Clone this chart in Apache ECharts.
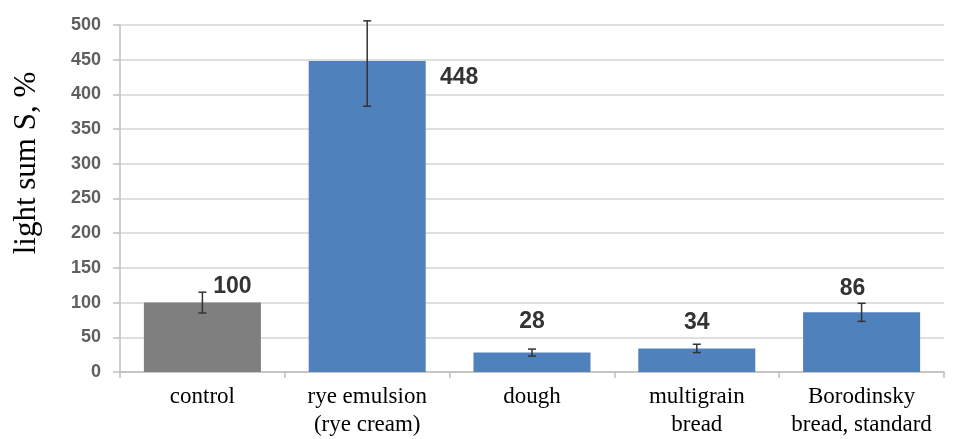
<!DOCTYPE html>
<html>
<head>
<meta charset="utf-8">
<script src="https://cdn.jsdelivr.net/npm/echarts@6/dist/echarts.min.js"></script>
<style>
html, body { margin: 0; padding: 0; background: #fff; }
#chart { width: 956px; height: 439px; }
</style>
</head>
<body>
<div id="chart"></div>
<script>
// data
var categories = ['control', 'rye emulsion\n(rye cream)', 'dough', 'multigrain\nbread', 'Borodinsky\nbread, standard'];
var values = [100, 448, 28, 34, 86];
var errLow = [85, 383, 23, 28, 73];   // lower whisker end
var errHigh = [115, 506, 33, 40, 99]; // upper whisker end
var barColors = ['#7f7f7f', '#4f81bd', '#4f81bd', '#4f81bd', '#4f81bd'];
var yTicks = [0, 500, 50]; // min, max, interval
var yTitle = 'light sum S, %';

// label placement per bar (offset from the top of the bar)
var labelOffsets = [[30, 1], [92, 33], [0, -14], [0, -9], [-9, -7]];

var myChart = echarts.init(document.getElementById('chart'));

var barData = values.map(function(v, i) {
	return {
		value: v,
		itemStyle: { color: barColors[i] },
		label: { offset: labelOffsets[i] }
	};
});

var errData = values.map(function(v, i) {
	return [i, errLow[i], errHigh[i]];
});

var option = {
	animation: false,
	grid: {
		left: 120,
		right: 12,
		top: 25,
		bottom: 67
	},
	graphic: [{ // y axis title
		type: 'text',
		x: 27,
		y: 163,
		rotation: Math.PI / 2,
		style: {
			text: yTitle,
			fill: '#000',
			font: '31px "Liberation Serif"',
			align: 'center',
			verticalAlign: 'middle'
		}
	}],
	xAxis: {
		type: 'category',
		data: categories,
		axisLine: { lineStyle: { color: '#bfbfbf', width: 1.5 } },
		axisTick: {
			show: true,
			length: 6,
			lineStyle: { color: '#bfbfbf', width: 1.5 }
		},
		axisLabel: {
			color: '#000',
			fontFamily: 'Liberation Serif',
			fontSize: 23,
			lineHeight: 28,
			margin: 11,
			interval: 0
		}
	},
	yAxis: {
		type: 'value',
		min: yTicks[0],
		max: yTicks[1],
		interval: yTicks[2],
		axisLine: { show: true, lineStyle: { color: '#bfbfbf', width: 1.5 } },
		axisTick: {
			show: true,
			inside: false,
			length: 7,
			lineStyle: { color: '#bfbfbf', width: 1.5 }
		},
		splitLine: { lineStyle: { color: '#d4d4d4', width: 1.5 } },
		axisLabel: {
			color: '#5f5f5f',
			fontFamily: 'Liberation Sans',
			fontWeight: 'bold',
			fontSize: 18,
			margin: 19
		}
	},
	series: [{
		type: 'bar',
		data: barData,
		barCategoryGap: '29%',
		label: {
			show: true,
			position: 'top',
			distance: 5,
			color: '#333',
			fontFamily: 'Liberation Sans',
			fontWeight: 'bold',
			fontSize: 23
		},
		z: 2
	}, {
		type: 'custom',
		data: errData,
		z: 5,
		renderItem: function(params, api) { // error bars
			var x = api.value(0);
			var lo = api.coord([x, api.value(1)]);
			var hi = api.coord([x, api.value(2)]);
			var w = 4;
			var st = { stroke: '#333', lineWidth: 1.5 };
			return {
				type: 'group',
				children: [
					{ type: 'line', shape: { x1: lo[0], y1: lo[1], x2: hi[0], y2: hi[1] }, style: st },
					{ type: 'line', shape: { x1: lo[0] - w, y1: lo[1], x2: lo[0] + w, y2: lo[1] }, style: st },
					{ type: 'line', shape: { x1: hi[0] - w, y1: hi[1], x2: hi[0] + w, y2: hi[1] }, style: st }
				]
			};
		}
	}]
};
myChart.setOption(option);
</script>
</body>
</html>
